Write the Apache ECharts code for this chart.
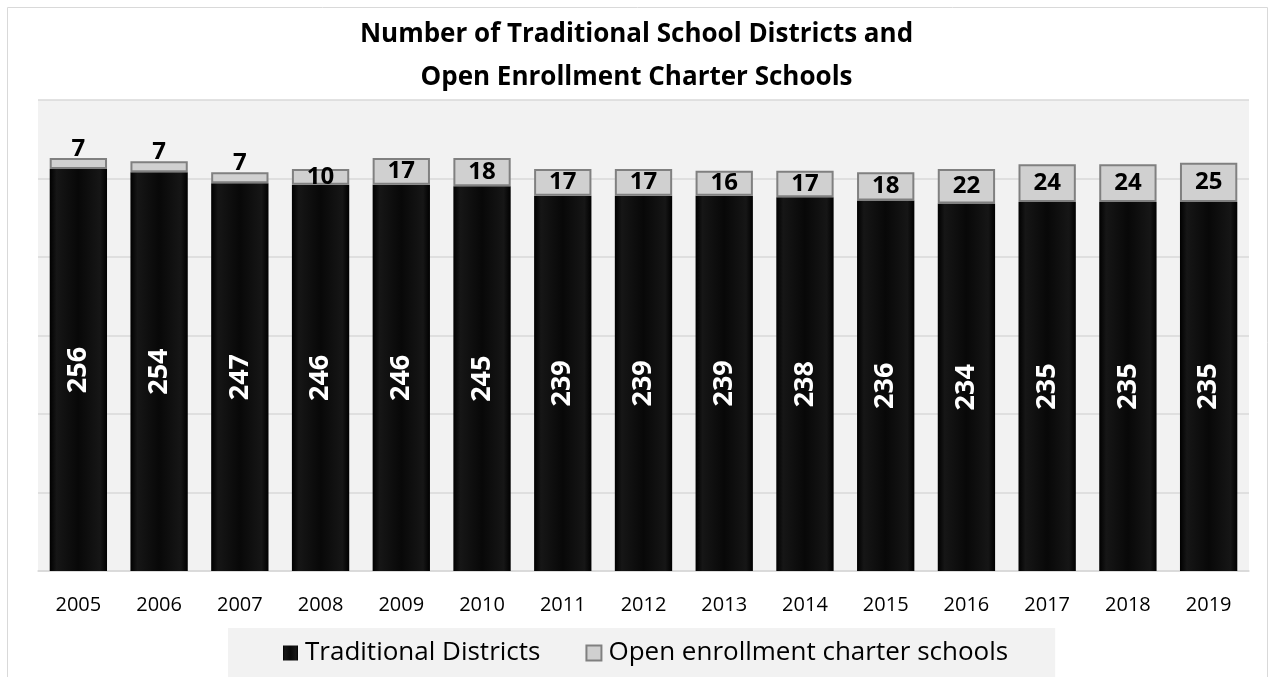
<!DOCTYPE html>
<html>
<head>
<meta charset="utf-8">
<script src="https://cdn.jsdelivr.net/npm/echarts@6/dist/echarts.min.js"></script>
<style>
  html, body { margin: 0; padding: 0; background: #fff; }
  #chart { width: 1273px; height: 677px; }
</style>
</head>
<body>
<div id="chart"></div>
<script>
var years = ['2005', '2006', '2007', '2008', '2009', '2010', '2011', '2012', '2013', '2014', '2015', '2016', '2017', '2018', '2019'];
var traditional = [256, 254, 247, 246, 246, 245, 239, 239, 239, 238, 236, 234, 235, 235, 235];
var charter = [7, 7, 7, 10, 17, 18, 17, 17, 16, 17, 18, 22, 24, 24, 25];

var FONT = '"Open Sans", "Noto Sans", sans-serif';
var chart = echarts.init(document.getElementById('chart'));

// small segments get their number on top, the rest inside
var charterData = charter.map(function (v) {
    return v < 10 ? { value: v, label: { position: 'top', distance: -3 } } : v;
});

var option = {
    animation: false,
    textStyle: { fontFamily: FONT },
    title: {
        text: 'Number of Traditional School Districts and\nOpen Enrollment Charter Schools',
        left: 'center',
        top: 8,
        textStyle: { fontFamily: FONT, fontSize: 26, fontWeight: 'bold', color: '#000', lineHeight: 43 }
    },
    graphic: [{
        type: 'rect',
        shape: { x: 7.5, y: 7.5, width: 1260, height: 700 },
        style: { fill: null, stroke: '#d9d9d9', lineWidth: 1 },
        silent: true,
        z: -10
    }],
    legend: {
        top: 628,
        left: 228,
        backgroundColor: '#f2f2f2',
        padding: [12, 47, 24, 55],
        itemGap: 45,
        itemWidth: 15,
        itemHeight: 15,
        icon: 'rect',
        textStyle: { fontFamily: FONT, fontSize: 26, color: '#000', padding: [0, 0, 0, 2] },
        data: ['Traditional Districts', 'Open enrollment charter schools']
    },
    grid: {
        left: 38, right: 24, top: 100, bottom: 106,
        show: true, backgroundColor: '#f2f2f2', borderWidth: 0
    },
    xAxis: {
        type: 'category',
        data: years,
        axisLine: { lineStyle: { color: '#d9d9d9', width: 1.5 } },
        axisTick: { show: false },
        axisLabel: { color: '#000', fontSize: 20, margin: 24, fontFamily: FONT }
    },
    yAxis: {
        type: 'value',
        min: 0, max: 300, interval: 50,
        axisLabel: { show: false },
        axisLine: { show: false },
        axisTick: { show: false },
        splitLine: { lineStyle: { color: '#d9d9d9', width: 1.5 } }
    },
    series: [{
        name: 'Traditional Districts',
        type: 'bar',
        stack: 'total',
        barCategoryGap: '29%',
        data: traditional,
        itemStyle: {
            color: new echarts.graphic.LinearGradient(0, 0, 1, 0, [
                { offset: 0, color: '#000' },
                { offset: 0.12, color: '#161616' },
                { offset: 0.5, color: '#080808' },
                { offset: 0.88, color: '#161616' },
                { offset: 1, color: '#000' }
            ])
        },
        label: {
            show: true,
            position: 'inside',
            rotate: 90,
            color: '#fff',
            fontSize: 27,
            fontWeight: 'bold',
            fontFamily: FONT
        }
    }, {
        name: 'Open enrollment charter schools',
        type: 'bar',
        stack: 'total',
        data: charterData,
        itemStyle: { color: '#d0d0d0', borderColor: '#808080', borderWidth: 2 },
        label: {
            show: true,
            position: 'inside',
            color: '#000',
            fontSize: 24,
            fontWeight: 'bold',
            fontFamily: FONT
        }
    }]
};

chart.setOption(option);
</script>
</body>
</html>
